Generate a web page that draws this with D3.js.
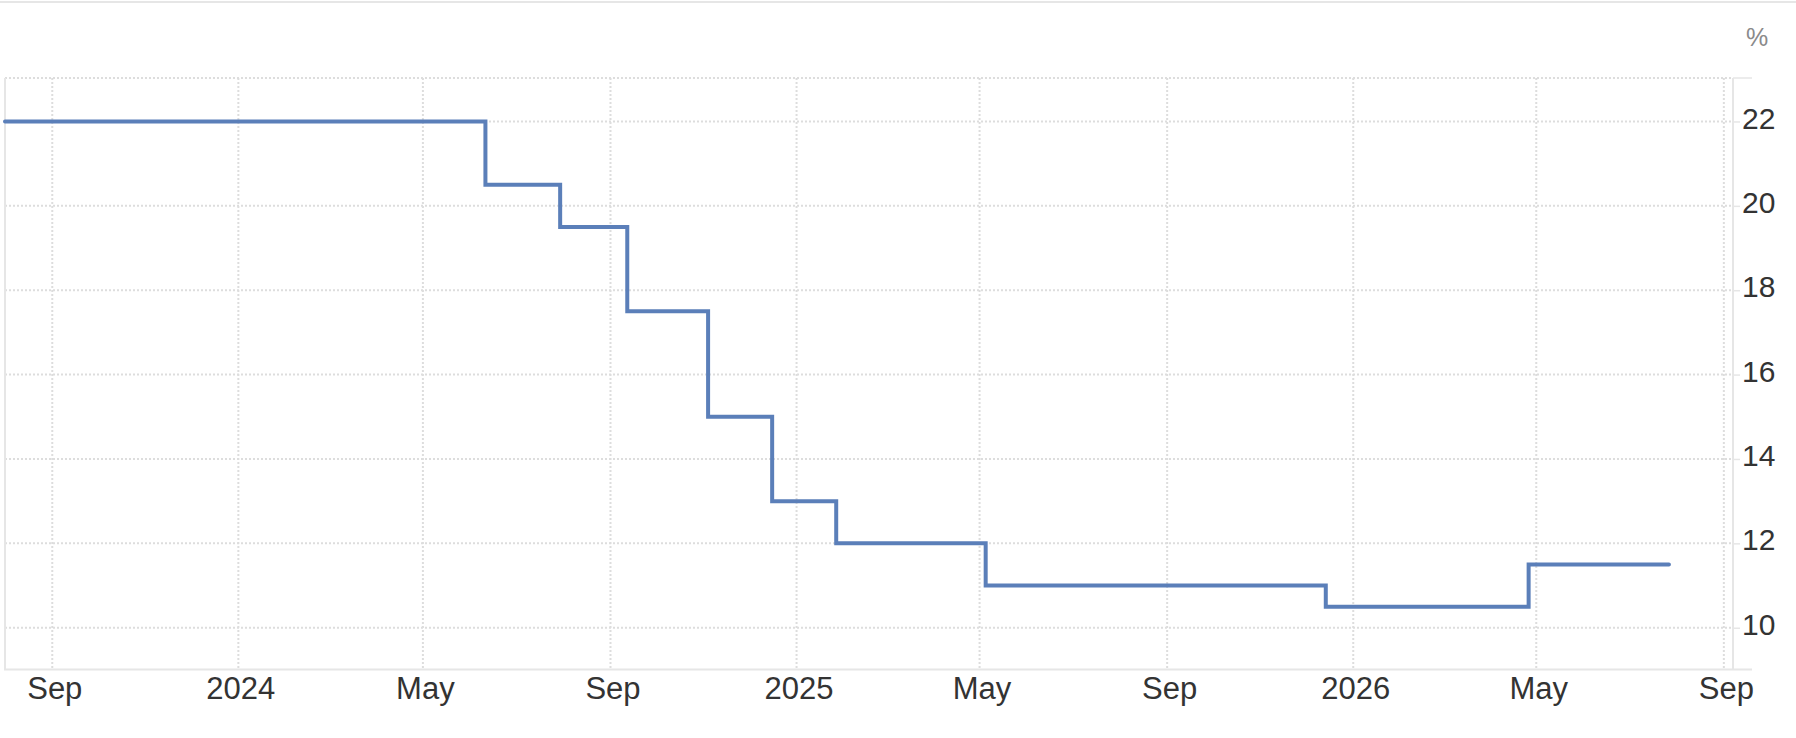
<!DOCTYPE html>
<html>
<head>
<meta charset="utf-8">
<script src="https://cdn.jsdelivr.net/npm/d3@7"></script>
<style>
  body { margin: 0; background: #fff; }
  svg { display: block; font-family: "Liberation Sans", Arial, Helvetica, sans-serif; }
</style>
</head>
<body>
<div class="graphic"></div>
<script>
var width = 1796;
var height = 738;

// step changes of the rate (value holds from that date on)
var rateDates = ["2023-08-01", "2024-06-11", "2024-07-30", "2024-09-12", "2024-11-04",
                 "2024-12-16", "2025-01-27", "2025-05-05", "2025-12-14", "2026-04-26", "2026-07-27"];
var rateValues = [22, 20.5, 19.5, 17.5, 15, 13, 12, 11, 10.5, 11.5, 11.5];

var xTickDates = ["2023-09-01", "2024-01-01", "2024-05-01", "2024-09-01", "2025-01-01",
                  "2025-05-01", "2025-09-01", "2026-01-01", "2026-05-01", "2026-09-01"];
var xTickLabels = ["Sep", "2024", "May", "Sep", "2025", "May", "Sep", "2026", "May", "Sep"];
var yTicks = [10, 12, 14, 16, 18, 20, 22];

var parse = d3.timeParse("%Y-%m-%d");
var data = rateDates.map(function(d, i) { return {date: parse(d), value: rateValues[i]}; });
var tickDates = xTickDates.map(parse);

// plot box (note: "top" is reserved on window, so use other names)
var plotLeft = 5, plotRight = 1733, plotTop = 78, plotBottom = 669.5;

var svg = d3.select("div.graphic").append("svg")
	.attr("width", width)
	.attr("height", height);

var x = d3.scaleTime()
	.domain([parse("2023-08-01"), parse("2026-09-07")])
	.range([plotLeft, plotRight]);
var y = d3.scaleLinear()
	.domain([9.01, 23.03])
	.range([plotBottom, plotTop]);

// top border of the page
svg.append("line")
	.attr("x1", 0).attr("x2", width)
	.attr("y1", 2).attr("y2", 2)
	.attr("stroke", "#e6e6e6").attr("stroke-width", 2);

// grid
var grid = svg.append("g").attr("stroke", "#dddddd").attr("stroke-width", 2).attr("stroke-dasharray", "2,2");
grid.selectAll("line.h")
	.data(yTicks.concat([23.03]))
	.enter().append("line")
	.attr("class", "h")
	.attr("x1", plotLeft).attr("x2", plotRight)
	.attr("y1", function(d) { return y(d); })
	.attr("y2", function(d) { return y(d); });
grid.selectAll("line.v")
	.data(tickDates)
	.enter().append("line")
	.attr("class", "v")
	.attr("x1", function(d) { return x(d); })
	.attr("x2", function(d) { return x(d); })
	.attr("y1", plotTop).attr("y2", plotBottom);

// axis lines
svg.append("line")
	.attr("x1", plotLeft).attr("x2", plotLeft).attr("y1", plotTop).attr("y2", plotBottom)
	.attr("stroke", "#e6e6e6").attr("stroke-width", 2);
svg.append("line")
	.attr("x1", plotLeft - 1).attr("x2", 1752).attr("y1", plotBottom).attr("y2", plotBottom)
	.attr("stroke", "#e6e6e6").attr("stroke-width", 2);
svg.append("line")
	.attr("x1", plotRight).attr("x2", plotRight).attr("y1", plotTop).attr("y2", plotBottom)
	.attr("stroke", "#e6e6e6").attr("stroke-width", 2);
svg.append("line")
	.attr("x1", plotRight).attr("x2", 1752).attr("y1", plotTop).attr("y2", plotTop)
	.attr("stroke", "#e6e6e6").attr("stroke-width", 1.5);

// x axis
var xAxis = svg.append("g")
	.attr("transform", "translate(0," + plotBottom + ")")
	.call(d3.axisBottom(x)
		.tickValues(tickDates)
		.tickSize(0)
		.tickPadding(7)
		.tickFormat(function(d, i) { return xTickLabels[i]; }));
xAxis.select(".domain").remove();
xAxis.selectAll("text")
	.attr("fill", "#333")
	.attr("font-size", 31)
	.attr("dx", 2)
	.style("font-family", "'Liberation Sans', Arial, Helvetica, sans-serif");

// y axis
var yAxis = svg.append("g")
	.attr("transform", "translate(" + plotRight + ",0)")
	.call(d3.axisRight(y)
		.tickValues(yTicks)
		.tickSize(7)
		.tickPadding(2));
yAxis.select(".domain").remove();
yAxis.selectAll("line").attr("stroke", "#e6e6e6").attr("stroke-width", 1.5);
yAxis.selectAll("text")
	.attr("fill", "#333")
	.attr("font-size", 30)
	.attr("dy", "0.22em")
	.style("font-family", "'Liberation Sans', Arial, Helvetica, sans-serif");

svg.append("text")
	.attr("x", 1746)
	.attr("y", 45.5)
	.attr("fill", "#8a8a8a")
	.attr("font-size", 25)
	.text("%");

// rate line
var line = d3.line()
	.x(function(d) { return x(d.date); })
	.y(function(d) { return y(d.value); })
	.curve(d3.curveStepAfter);

svg.append("path")
	.datum(data)
	.attr("d", line)
	.attr("fill", "none")
	.attr("stroke", "#5b7fb9")
	.attr("stroke-width", 4)
	.attr("stroke-linejoin", "miter")
	.attr("stroke-linecap", "round");
</script>
</body>
</html>
